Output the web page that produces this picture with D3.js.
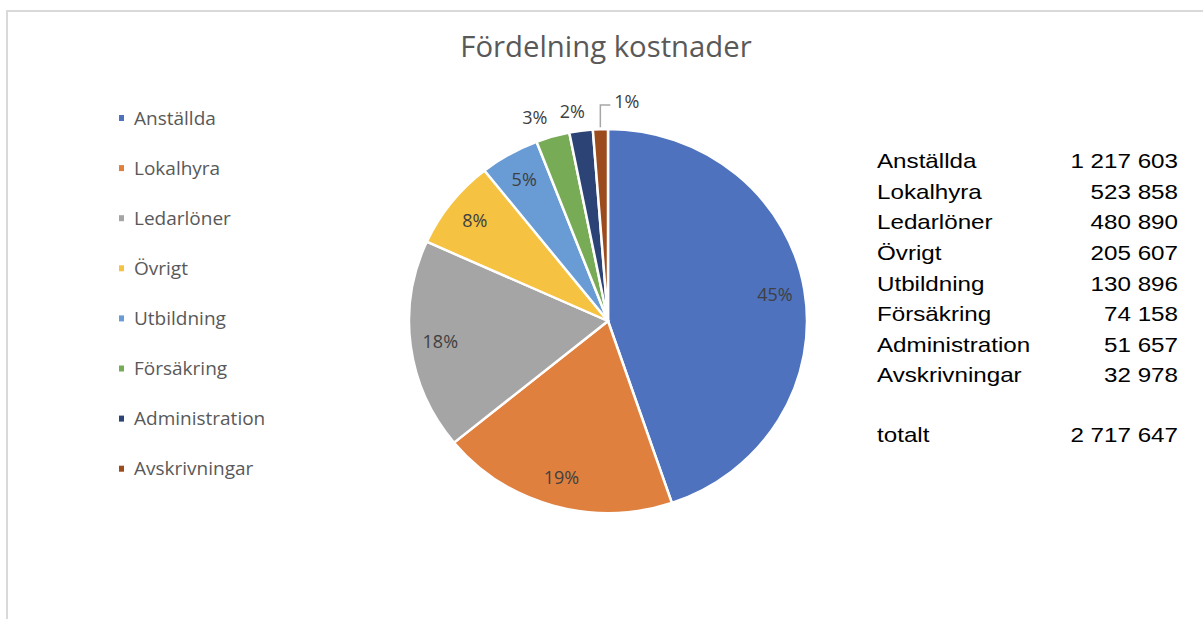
<!DOCTYPE html>
<html><head><meta charset="utf-8">
<script src="https://cdn.jsdelivr.net/npm/d3@7"></script>
<style>html,body{margin:0;padding:0;background:#fff;}svg{display:block;}</style>
</head><body>
<svg id="chart" width="1203" height="619"></svg>
<script>
const title = "Fördelning kostnader";
const categories = ["Anställda","Lokalhyra","Ledarlöner","Övrigt","Utbildning","Försäkring","Administration","Avskrivningar"];
const values = [1217603, 523858, 480890, 205607, 130896, 74158, 51657, 32978];
const colors = ["#4E72BE","#E0803F","#A5A5A5","#F5C242","#699BD5","#77AB55","#2C4475","#9B4B1C"];
const totalLabel = "totalt";
const totalValue = 2717647;

const svg = d3.select("#chart");
const W = 1203, H = 619;

// frame
svg.append("line").attr("x1",7).attr("x2",W).attr("y1",11).attr("y2",11).attr("stroke","#d9d9d9").attr("stroke-width",2);
svg.append("line").attr("x1",7).attr("x2",7).attr("y1",10).attr("y2",H).attr("stroke","#d9d9d9").attr("stroke-width",2);

// title
svg.append("text").attr("x",606).attr("y",57).attr("text-anchor","middle")
  .style("font-family","'Open Sans'").style("font-size","29.3px").attr("fill","#595959").text(title);

// pie
const cx = 608, cy = 321, rx = 199, ry = 192;
const pie = d3.pie().sort(null).value(d=>d)(values);
const arc = d3.arc().innerRadius(0).outerRadius(rx);
const g = svg.append("g").attr("transform",`translate(${cx},${cy}) scale(1,${ry/rx})`);
g.selectAll("path").data(pie).join("path")
  .attr("d",arc).attr("fill",(d,i)=>colors[i])
  .attr("stroke","#fff").attr("stroke-width",2.5);

const fmtPct = d3.format(".0%");
const total = d3.sum(values);
const lblFont = "18px";
function pt(a,k){return [cx + rx*k*Math.sin(a), cy - ry*k*Math.cos(a)];}
pie.forEach((d,i)=>{
  const a = (d.startAngle+d.endAngle)/2;
  const frac = d.value/total;
  const label = fmtPct(frac);
  if (frac > 0.04) {
    const [x,y] = pt(a,0.85);
    svg.append("text").attr("x",x).attr("y",y).attr("dy","0.35em").attr("text-anchor","middle")
      .style("font-family","'Open Sans'").style("font-size",lblFont).attr("fill","#404040").text(label);
  } else if (frac > 0.015) {
    const [x,y] = pt(a,1.1);
    svg.append("text").attr("x",x + Math.sin(a)*45).attr("y",y).attr("dy","0.35em").attr("text-anchor","middle")
      .style("font-family","'Open Sans'").style("font-size",lblFont).attr("fill","#404040").text(label);
  } else {
    const [x0,y0] = pt(a,1.01);
    const yTop = cy - ry - 24;
    svg.append("path").attr("d",`M${x0},${y0}V${yTop}H${x0+10}`).attr("fill","none").attr("stroke","#a6a6a6").attr("stroke-width",1.5);
    svg.append("text").attr("x",x0+14).attr("y",yTop-3).attr("dy","0.35em").attr("text-anchor","start")
      .style("font-family","'Open Sans'").style("font-size",lblFont).attr("fill","#404040").text(label);
  }
});

// legend
const leg = svg.append("g");
categories.forEach((c,i)=>{
  const y = 118 + i*50.1;
  leg.append("rect").attr("x",119).attr("y",y-3).attr("width",5).attr("height",6).attr("fill",colors[i]);
  leg.append("text").attr("x",134).attr("y",y).attr("dy","0.35em")
    .style("font-family","'Open Sans'").style("font-size","19px").attr("fill","#595959").text(c);
});

// table
const tbl = svg.append("g").attr("transform","translate(877,0) scale(1.18,1)");
const fmt = v => d3.format(",")(v).replace(/,/g," ");
categories.forEach((c,i)=>{
  const y = 161 + i*30.6;
  tbl.append("text").attr("x",0).attr("y",y).attr("dy","0.35em")
    .style("font-family","'Liberation Sans'").style("font-size","20.5px").attr("fill","#000").text(c);
  tbl.append("text").attr("x",(1178-877)/1.18).attr("y",y).attr("dy","0.35em").attr("text-anchor","end")
    .style("font-family","'Liberation Sans'").style("font-size","20.5px").attr("fill","#000").text(fmt(values[i]));
});
tbl.append("text").attr("x",0).attr("y",435).attr("dy","0.35em")
  .style("font-family","'Liberation Sans'").style("font-size","20.5px").attr("fill","#000").text(totalLabel);
tbl.append("text").attr("x",(1178-877)/1.18).attr("y",435).attr("dy","0.35em").attr("text-anchor","end")
  .style("font-family","'Liberation Sans'").style("font-size","20.5px").attr("fill","#000").text(fmt(totalValue));
</script>
</body></html>
